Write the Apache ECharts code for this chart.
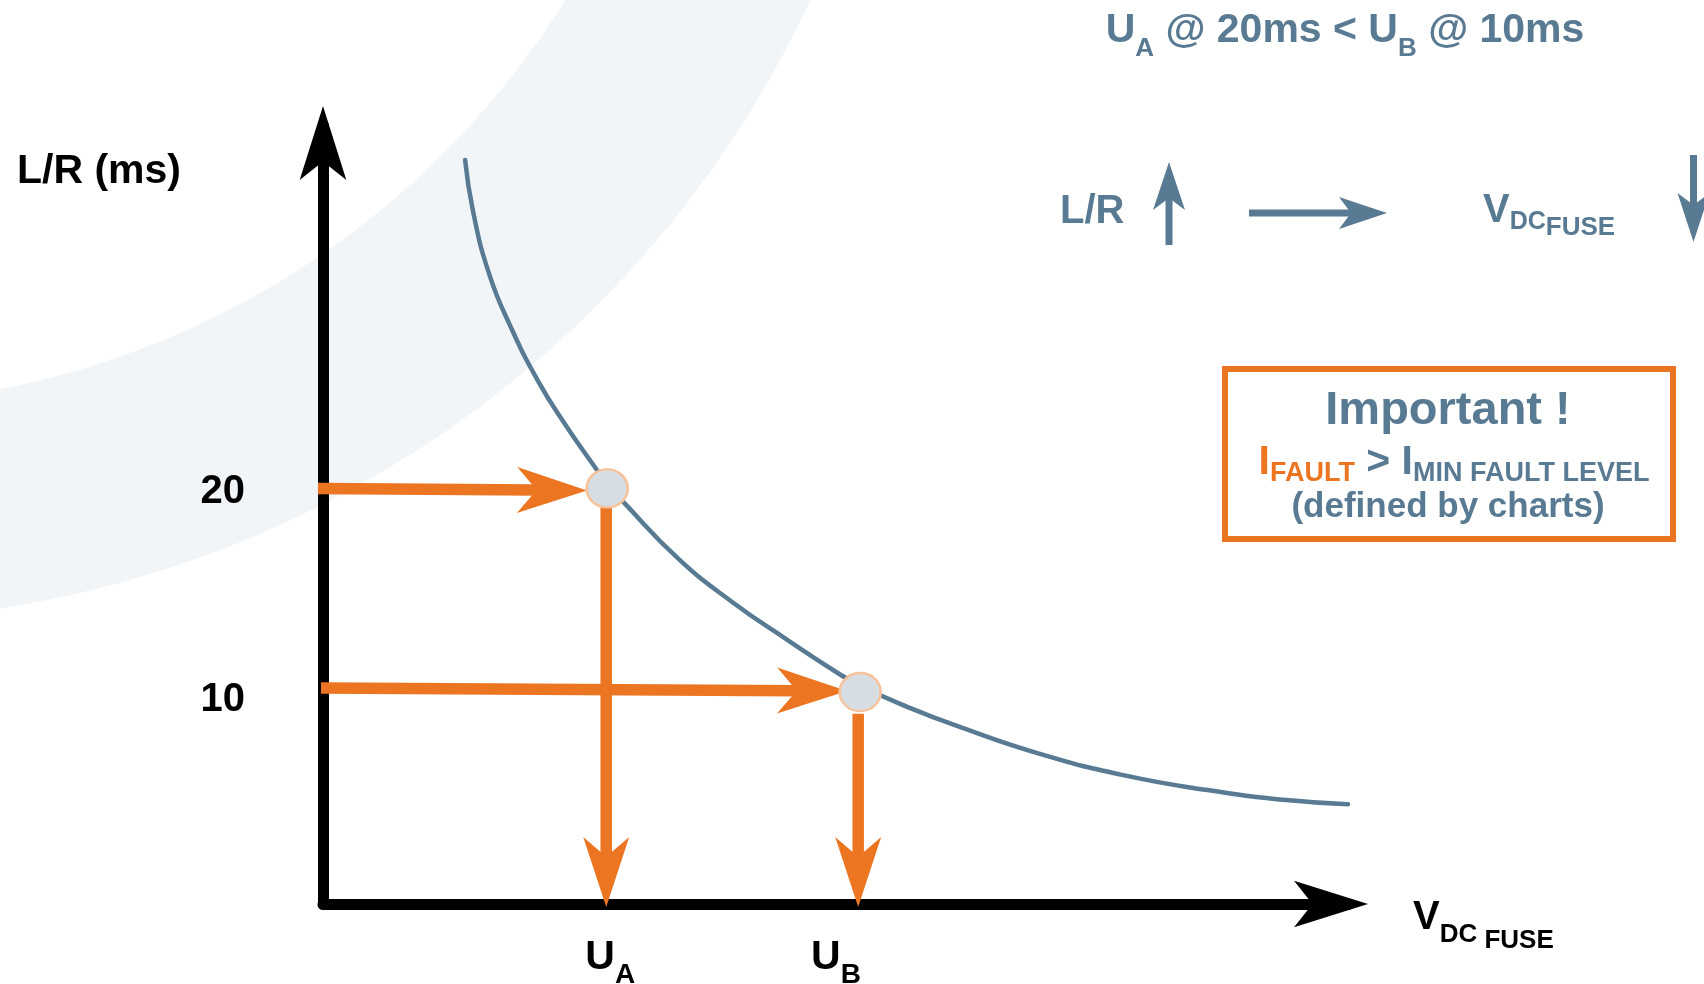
<!DOCTYPE html>
<html>
<head>
<meta charset="utf-8">
<script src="https://cdn.jsdelivr.net/npm/echarts@6/dist/echarts.min.js"></script>
<style>
html,body{margin:0;padding:0;background:#ffffff;}
#chart{width:1704px;height:984px;}
</style>
</head>
<body>
<div id="chart"></div>
<script>
// ---------- data ----------
const curveX = [14.1, 14.9, 16.5, 18.6, 21.3, 24.0, 27.3, 28.2, 29.7, 35.3, 40.7, 46.1, 50.8, 53.3, 57.9, 63.3, 71.3, 79.4, 87.5, 95.6, 101.7];
const curveY = [35.8, 33.3, 30.3, 27.8, 25.2, 23.1, 20.8, 20.2, 19.4, 16.6, 14.5, 12.7, 11.2, 10.5, 9.5, 8.5, 7.2, 6.2, 5.5, 5.0, 4.8];
const pointX = [28.2, 53.3];
const pointY = [20.0, 10.2];
const arrowX0 = [-0.5, -0.2, 28.1, 53.1];
const arrowY0 = [20.0, 10.4, 19.1, 9.15];
const arrowX1 = [26.2, 52.0, 28.1, 53.1];
const arrowY1 = [19.9, 10.25, -0.15, -0.15];
const yTickValues = [10, 20];
const yTickLabels = ['10', '20'];
const xTickValues = [28.5, 50.9];
const xTickMain = ['U', 'U'];
const xTickSub = ['A', 'B'];

// ---------- styles ----------
const FF = "'Liberation Sans', Arial, Helvetica, sans-serif";
const SLATE = '#587a93';
const ORANGE = '#ec7521';
const HEAD_LEN = 70;
const HEAD_W = 46;

function idxOf(arr, v) {
  for (let i = 0; i < arr.length; i++) if (Math.abs(arr[i] - v) < 1e-6) return i;
  return -1;
}
function g(size, fill, padTop) {
  return { fontSize: size, fontWeight: 'bold', fontFamily: FF, fill: fill, verticalAlign: 'top', padding: [padTop || 0, 0, 0, 0] };
}
function r(size, color, padTop) {
  return { fontSize: size, fontWeight: 'bold', fontFamily: FF, color: color, verticalAlign: 'top', padding: [padTop || 0, 0, 0, 0] };
}
function txt(x, baseline, mainSize, text, rich, align) {
  return { type: 'text', x: x, y: baseline - 0.85 * mainSize, z: 20, silent: true,
    style: { text: text, rich: rich, align: align || 'left', verticalAlign: 'top' } };
}
function deco(points, fill) {
  return { type: 'polygon', z: 20, silent: true, shape: { points: points }, style: { fill: fill } };
}
function bar(x, y, w, h, fill) {
  return { type: 'rect', z: 20, silent: true, shape: { x: x, y: y, width: w, height: h }, style: { fill: fill } };
}

const curveData = curveX.map((x, i) => [x, curveY[i]]);
const pointData = pointX.map((x, i) => [x, pointY[i]]);
const arrowData = arrowX0.map((x, i) => [x, arrowY0[i], arrowX1[i], arrowY1[i]]);

const chart = echarts.init(document.getElementById('chart'), null, { renderer: 'canvas' });

const axisLineStyle = { show: true, onZero: false, symbol: ['none', 'arrow'], symbolSize: [35, 74], symbolOffset: [0, 20],
  lineStyle: { color: '#000', width: 11 } };

const option = {
  animation: false,
  backgroundColor: '#ffffff',
  grid: { left: 323, top: 126, right: 356, bottom: 80, containLabel: false, outerBoundsMode: 'none' },
  xAxis: {
    type: 'value', min: 0, max: 101.7,
    axisLine: axisLineStyle,
    axisTick: { show: false },
    splitLine: { show: false },
    axisLabel: {
      customValues: xTickValues,
      margin: 33,
      formatter: function (v) {
        const i = idxOf(xTickValues, v);
        return i < 0 ? '' : '{u|' + xTickMain[i] + '}{s|' + xTickSub[i] + '}';
      },
      rich: { u: r(41, '#000', 0), s: r(28, '#000', 24) }
    }
  },
  yAxis: {
    type: 'value', min: 0, max: 37.44,
    axisLine: axisLineStyle,
    axisTick: { show: false },
    splitLine: { show: false },
    axisLabel: {
      customValues: yTickValues,
      margin: 78,
      verticalAlign: 'middle',
      formatter: function (v) {
        const i = idxOf(yTickValues, v);
        return i < 0 ? '' : '{n|' + yTickLabels[i] + '}';
      },
      rich: { n: r(40, '#000', 8) }
    }
  },
  series: [
    {
      type: 'line', data: curveData, showSymbol: false, smooth: 0.5,
      clip: false, silent: true, z: 2,
      lineStyle: { color: SLATE, width: 4.5, cap: 'round' }
    },
    {
      type: 'custom', data: arrowData, clip: false, silent: true, z: 3,
      encode: { x: [0, 2], y: [1, 3] },
      renderItem: function (params, api) {
        const p0 = api.coord([api.value(0), api.value(1)]);
        const p1 = api.coord([api.value(2), api.value(3)]);
        const dx = p1[0] - p0[0], dy = p1[1] - p0[1];
        const len = Math.sqrt(dx * dx + dy * dy);
        const ux = dx / len, uy = dy / len;
        const px = -uy, py = ux;
        const W = HEAD_W / 2;
        const back = [p1[0] - ux * HEAD_LEN, p1[1] - uy * HEAD_LEN];
        const notch = [p1[0] - ux * HEAD_LEN * 0.72, p1[1] - uy * HEAD_LEN * 0.72];
        return {
          type: 'group',
          children: [
            { type: 'line', shape: { x1: p0[0], y1: p0[1], x2: notch[0], y2: notch[1] },
              style: { stroke: ORANGE, lineWidth: 11.5, lineCap: 'butt' } },
            { type: 'polygon', shape: { points: [p1, [back[0] + px * W, back[1] + py * W], notch, [back[0] - px * W, back[1] - py * W]] },
              style: { fill: ORANGE } }
          ]
        };
      }
    },
    {
      type: 'scatter', data: pointData, symbol: 'circle', symbolSize: [41, 38], silent: true, z: 4,
      itemStyle: { color: '#d6dee4', borderColor: '#f7c19b', borderWidth: 2.5, opacity: 1 }
    }
  ],
  graphic: [
    { type: 'ring', z: -10, silent: true, shape: { cx: -164, cy: -454, r: 1075, r0: 859 }, style: { fill: '#f2f5f8' } },
    txt(17, 185, 40, '{a|L/R (ms)}', { a: g(41, '#000', 0) }, 'left'),
    txt(1413, 932, 40, '{v|V}{d|DC}{f| FUSE}', { v: g(40, '#000', 0), d: g(26, '#000', 23.9), f: g(26, '#000', 29.9) }, 'left'),
    txt(1345, 45.5, 41, '{u|U}{s|A}{u| @ 20ms < U}{s|B}{u| @ 10ms}', { u: g(41, SLATE, 0), s: g(26, SLATE, 24.75) }, 'center'),
    txt(1060, 226, 40, '{a|L/R}', { a: g(40, SLATE, 0) }, 'left'),
    bar(1165.5, 198, 7, 47, SLATE),
    deco([[1169, 162], [1185, 210], [1169, 198], [1153, 210]], SLATE),
    bar(1249, 209.5, 104, 7, SLATE),
    deco([[1387, 213], [1339, 229], [1351, 213], [1339, 197]], SLATE),
    txt(1483, 225, 40, '{v|V}{d|DC}{f|FUSE}', { v: g(40, SLATE, 0), d: g(25, SLATE, 18.6), f: g(26, SLATE, 23.9) }, 'left'),
    bar(1690, 155, 7, 52, SLATE),
    deco([[1693.5, 242], [1677.5, 193], [1693.5, 205], [1709.5, 193]], SLATE),
    { type: 'rect', z: 15, silent: true, shape: { x: 1225, y: 369, width: 448, height: 170 },
      style: { fill: '#ffffff', stroke: ORANGE, lineWidth: 6 } },
    txt(1448, 427, 47, '{a|Important !}', { a: g(47, SLATE, 0) }, 'center'),
    txt(1454, 477, 41, '{o|I}{os|FAULT}{m| > I}{ms|MIN FAULT LEVEL}',
      { o: g(41, ORANGE, 0), os: g(27, ORANGE, 17.9), m: g(41, SLATE, 0), ms: g(27, SLATE, 17.9) }, 'center'),
    txt(1448, 520, 35, '{a|(defined by charts)}', { a: g(35, SLATE, 0) }, 'center')
  ]
};
chart.setOption(option);
</script>
</body>
</html>
